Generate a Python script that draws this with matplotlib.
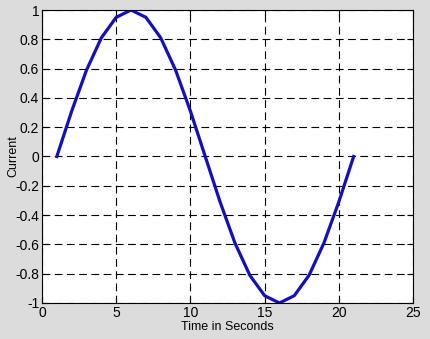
import numpy as np
import matplotlib
matplotlib.use("Agg")
import matplotlib.pyplot as plt

# values
time = [1, 2, 3, 4, 5, 6, 7, 8, 9, 10, 11, 12, 13, 14, 15, 16, 17, 18, 19, 20, 21]
current = [0.0, 0.31, 0.59, 0.81, 0.95, 1.0, 0.95, 0.81, 0.59, 0.31, 0.0,
           -0.31, -0.59, -0.81, -0.95, -1.0, -0.95, -0.81, -0.59, -0.31, 0.0]
xticks = [0, 5, 10, 15, 20, 25]
yticks = [-1, -0.8, -0.6, -0.4, -0.2, 0, 0.2, 0.4, 0.6, 0.8, 1]

plt.rcParams["font.family"] = ["Liberation Sans", "DejaVu Sans"]

fig = plt.figure(figsize=(4.30, 3.39), dpi=100, facecolor="#dcdcdc")
ax = fig.add_axes([42 / 430, 1 - 303 / 339, (413 - 42) / 430, (303 - 10) / 339])
ax.set_facecolor("white")

ax.plot(time, current, color="#1010c0", linewidth=2.3)

ax.set_xlim(0, 25)
ax.set_ylim(-1, 1)
ax.set_xticks(xticks)
ax.set_yticks(yticks)
ax.set_yticklabels([("%g" % v) for v in yticks])
ax.tick_params(direction="in", top=True, right=True, labelsize=10, length=4,
               width=0.8, colors="black", pad=2)

ax.grid(True, color="black", linestyle=(0, (7, 4)), linewidth=0.8)
for s in ax.spines.values():
    s.set_linewidth(0.8)
    s.set_color("black")

ax.set_xlabel("Time in Seconds", fontsize=9, labelpad=1)
ax.set_ylabel("Current", fontsize=9, labelpad=0)
# keep the label just inside the figure edge
ax.yaxis.set_label_coords(-0.062, 0.5)

fig.savefig("out.png", dpi=100, facecolor=fig.get_facecolor())
